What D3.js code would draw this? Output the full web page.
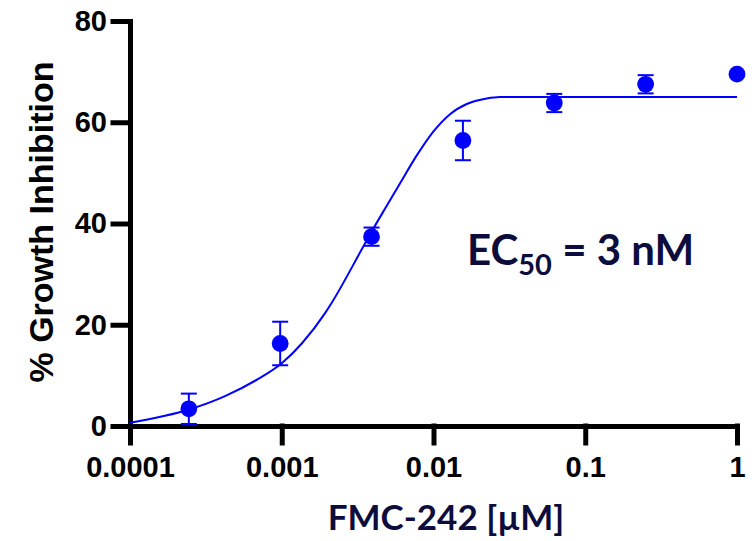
<!DOCTYPE html>
<html lang="en">
<head>
  <meta charset="UTF-8">
  <title>FMC-242 growth inhibition</title>
  <style>
    body {
      margin: 0;
      padding: 0;
      background: #ffffff;
    }

    svg {
      display: block;
    }

    .axis path,
    .axis line {
      stroke: #000;
      stroke-width: 5px;
      stroke-linecap: square;
    }

    .axis text {
      font-family: 'Liberation Sans', Arial, sans-serif;
      font-weight: bold;
      font-size: 29px;
      fill: #000;
    }

    .fit {
      fill: none;
      stroke: #0000ff;
      stroke-width: 2px;
    }

    .err {
      stroke: #0000ff;
      stroke-width: 2px;
    }

    .dot {
      fill: #0000ff;
    }

    .ytitle {
      font-family: 'Liberation Sans', Arial, sans-serif;
      font-weight: bold;
      font-size: 34px;
      fill: #000;
    }

    .navy {
      font-family: Lato, 'Open Sans', sans-serif;
      font-weight: bold;
      fill: #0d0d3d;
    }
  </style>
</head>
<body>
  <svg width="755" height="541"></svg>

  <script src="https://d3js.org/d3.v7.min.js"></script>
  <script>
    // measured points (4-fold dilutions, µM)
    const conc = [0.000244140625, 0.0009765625, 0.00390625, 0.015625, 0.0625, 0.25, 1];
    const inhibition = [3.4, 16.3, 37.4, 56.4, 63.8, 67.5, 69.5];
    const sem = [3.0, 4.3, 1.8, 3.9, 1.8, 1.8, 0.4];

    // fitted curve
    const fitConc = [0.0001, 0.000248, 0.000423, 0.0007, 0.001, 0.001355, 0.00193, 0.00213,
      0.00344, 0.00391, 0.00492, 0.00601, 0.00774, 0.01, 0.01285, 0.01656, 0.0224, 0.0274, 0.1, 1];
    const fitVal = [0.65, 3.3, 5.9, 9.3, 12.4, 16.3, 22.3, 24.3,
      35.4, 38.4, 43.5, 47.9, 53.4, 58.2, 61.6, 63.6, 64.7, 65.0, 65.0, 65.0];

    const xTicks = [0.0001, 0.001, 0.01, 0.1, 1];
    const xTickLabels = ["0.0001", "0.001", "0.01", "0.1", "1"];
    const yTicks = [0, 20, 40, 60, 80];

    const svg = d3.select("svg");

    const x = d3.scaleLog().domain([0.0001, 1]).range([130, 737]);
    const y = d3.scaleLinear().domain([0, 80]).range([426, 21]);

    // axes
    svg.append("g")
      .attr("class", "axis")
      .attr("transform", "translate(0,426)")
      .call(d3.axisBottom(x)
        .tickValues(xTicks)
        .tickFormat((d, i) => xTickLabels[i])
        .tickSize(17)
        .tickSizeOuter(0)
        .tickPadding(13));

    svg.append("g")
      .attr("class", "axis")
      .attr("transform", "translate(130,0)")
      .call(d3.axisLeft(y)
        .tickValues(yTicks)
        .tickSize(17)
        .tickSizeOuter(0)
        .tickPadding(6));

    // fitted curve
    const line = d3.line()
      .x((d, i) => x(fitConc[i]))
      .y((d) => y(d))
      .curve(d3.curveMonotoneX);

    svg.append("path")
      .attr("class", "fit")
      .attr("d", line(fitVal));

    // error bars
    const pts = conc.map((c, i) => ({ c: c, v: inhibition[i], e: sem[i] }));
    const bars = svg.append("g").selectAll("g")
      .data(pts)
      .enter()
      .append("g")
      .attr("class", "err");

    bars.append("line")
      .attr("x1", (d) => x(d.c)).attr("x2", (d) => x(d.c))
      .attr("y1", (d) => y(d.v + d.e)).attr("y2", (d) => y(d.v - d.e));
    bars.append("line")
      .attr("x1", (d) => x(d.c) - 8).attr("x2", (d) => x(d.c) + 8)
      .attr("y1", (d) => y(d.v + d.e)).attr("y2", (d) => y(d.v + d.e));
    bars.append("line")
      .attr("x1", (d) => x(d.c) - 8).attr("x2", (d) => x(d.c) + 8)
      .attr("y1", (d) => y(d.v - d.e)).attr("y2", (d) => y(d.v - d.e));

    svg.append("g").selectAll("circle")
      .data(pts)
      .enter()
      .append("circle")
      .attr("class", "dot")
      .attr("cx", (d) => x(d.c))
      .attr("cy", (d) => y(d.v))
      .attr("r", 8.4);

    // titles
    svg.append("text")
      .attr("class", "ytitle")
      .attr("transform", "translate(53,222) rotate(-90)")
      .attr("text-anchor", "middle")
      .text("% Growth Inhibition");

    svg.append("text")
      .attr("class", "navy")
      .attr("x", 446)
      .attr("y", 530)
      .attr("text-anchor", "middle")
      .style("font-size", "35px")
      .text("FMC-242 [µM]");

    const ec = svg.append("text")
      .attr("class", "navy")
      .attr("x", 467)
      .attr("y", 265)
      .style("font-size", "42px");
    ec.append("tspan").text("EC");
    ec.append("tspan").attr("dy", 10).style("font-size", "29px").text("50");
    ec.append("tspan").attr("dy", -10).text(" = 3 nM");
  </script>
</body>
</html>
